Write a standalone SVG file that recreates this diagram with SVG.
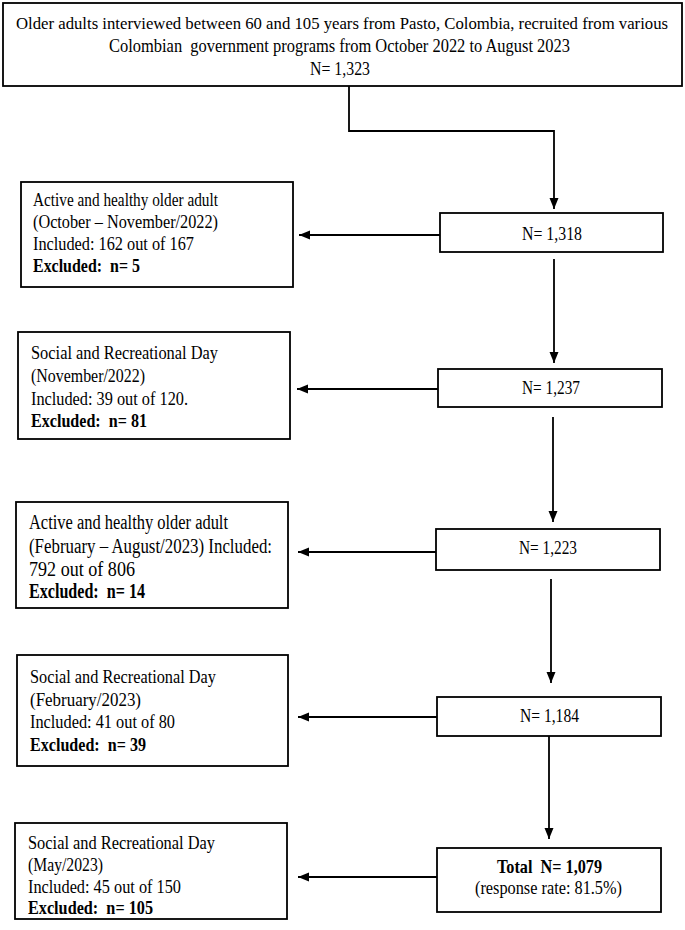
<svg xmlns="http://www.w3.org/2000/svg" width="685" height="930" viewBox="0 0 685 930">
<style>
text{font-family:"Liberation Serif","Times New Roman",serif;font-size:19px;fill:#000;white-space:pre}
.b{font-weight:bold}
.l{font-size:20px}
.s{font-size:17px}
rect{fill:#fff;stroke:#000;stroke-width:1.8}
#connectors path{fill:none;stroke:#000;stroke-width:1.8}
</style>
<defs>
<marker id="ah" markerWidth="12" markerHeight="12" refX="11" refY="6" orient="auto" markerUnits="userSpaceOnUse">
<path d="M0,1.5 L11,6 L0,10.5 Z" fill="#000"/>
</marker>
</defs>
<rect x="0" y="0" width="685" height="930" style="fill:#fff;stroke:none"/>
<g id="connectors">
<path d="M349,86 V131 H554 V209" marker-end="url(#ah)"/>
<path d="M440,235 H299" marker-end="url(#ah)"/>
<path d="M554,259 V363" marker-end="url(#ah)"/>
<path d="M438,389 H297" marker-end="url(#ah)"/>
<path d="M553,417 V522" marker-end="url(#ah)"/>
<path d="M436,552 H298" marker-end="url(#ah)"/>
<path d="M551,579 V683" marker-end="url(#ah)"/>
<path d="M437,717 H298" marker-end="url(#ah)"/>
<path d="M549,736 V839" marker-end="url(#ah)"/>
<path d="M437,877 H298" marker-end="url(#ah)"/>
</g>
<g id="top">
<rect x="3" y="3" width="679" height="83"/>
<text x="16" y="29" class="s" textLength="652" lengthAdjust="spacingAndGlyphs">Older adults interviewed between 60 and 105 years from Pasto, Colombia, recruited from various</text>
<text x="109" y="52" textLength="461" lengthAdjust="spacingAndGlyphs">Colombian  government programs from October 2022 to August 2023</text>
<text x="310" y="75" textLength="60" lengthAdjust="spacingAndGlyphs">N= 1,323</text>
</g>
<g id="n1318">
<rect x="440" y="213" width="223" height="39"/>
<text x="522" y="240" textLength="60" lengthAdjust="spacingAndGlyphs">N= 1,318</text>
</g>
<g id="ex1">
<rect x="21" y="182" width="272" height="105"/>
<text x="33" y="206" textLength="185" lengthAdjust="spacingAndGlyphs">Active and healthy older adult</text>
<text x="33" y="228" textLength="185" lengthAdjust="spacingAndGlyphs">(October – November/2022)</text>
<text x="33" y="250" textLength="161" lengthAdjust="spacingAndGlyphs">Included: 162 out of 167</text>
<text x="33" y="272" class="b" textLength="107" lengthAdjust="spacingAndGlyphs">Excluded:  n= 5</text>
</g>
<g id="n1237">
<rect x="438" y="369" width="224" height="38"/>
<text x="522" y="394" textLength="58" lengthAdjust="spacingAndGlyphs">N= 1,237</text>
</g>
<g id="ex2">
<rect x="18" y="332" width="272" height="107"/>
<text x="31" y="359" textLength="187" lengthAdjust="spacingAndGlyphs">Social and Recreational Day</text>
<text x="31" y="382" textLength="114" lengthAdjust="spacingAndGlyphs">(November/2022)</text>
<text x="31" y="405" textLength="157" lengthAdjust="spacingAndGlyphs">Included: 39 out of 120.</text>
<text x="31" y="427" class="b" textLength="116" lengthAdjust="spacingAndGlyphs">Excluded:  n= 81</text>
</g>
<g id="n1223">
<rect x="436" y="529" width="224" height="41"/>
<text x="519" y="554" textLength="58" lengthAdjust="spacingAndGlyphs">N= 1,223</text>
</g>
<g id="ex3">
<rect x="16" y="502" width="272" height="106"/>
<text x="29" y="529" class="l" textLength="199" lengthAdjust="spacingAndGlyphs">Active and healthy older adult</text>
<text x="29" y="553" class="l" textLength="243" lengthAdjust="spacingAndGlyphs">(February – August/2023) Included:</text>
<text x="29" y="576" class="l" textLength="106" lengthAdjust="spacingAndGlyphs">792 out of 806</text>
<text x="29" y="598" class="l b" textLength="116" lengthAdjust="spacingAndGlyphs">Excluded:  n= 14</text>
</g>
<g id="n1184">
<rect x="437" y="697" width="224" height="39"/>
<text x="520" y="722" textLength="59" lengthAdjust="spacingAndGlyphs">N= 1,184</text>
</g>
<g id="ex4">
<rect x="17" y="655" width="271" height="111"/>
<text x="30" y="683" textLength="186" lengthAdjust="spacingAndGlyphs">Social and Recreational Day</text>
<text x="30" y="706" textLength="111" lengthAdjust="spacingAndGlyphs">(February/2023)</text>
<text x="30" y="728" textLength="145" lengthAdjust="spacingAndGlyphs">Included: 41 out of 80</text>
<text x="30" y="751" class="b" textLength="116" lengthAdjust="spacingAndGlyphs">Excluded:  n= 39</text>
</g>
<g id="total">
<rect x="437" y="848" width="224" height="64"/>
<text x="497" y="873" class="b" textLength="105" lengthAdjust="spacingAndGlyphs">Total  N= 1,079</text>
<text x="475" y="894" textLength="147" lengthAdjust="spacingAndGlyphs">(response rate: 81.5%)</text>
</g>
<g id="ex5">
<rect x="15" y="823" width="272" height="96"/>
<text x="28" y="849" textLength="187" lengthAdjust="spacingAndGlyphs">Social and Recreational Day</text>
<text x="28" y="871" textLength="75" lengthAdjust="spacingAndGlyphs">(May/2023)</text>
<text x="28" y="893" textLength="153" lengthAdjust="spacingAndGlyphs">Included: 45 out of 150</text>
<text x="28" y="914" class="b" textLength="125" lengthAdjust="spacingAndGlyphs">Excluded:  n= 105</text>
</g>
</svg>
